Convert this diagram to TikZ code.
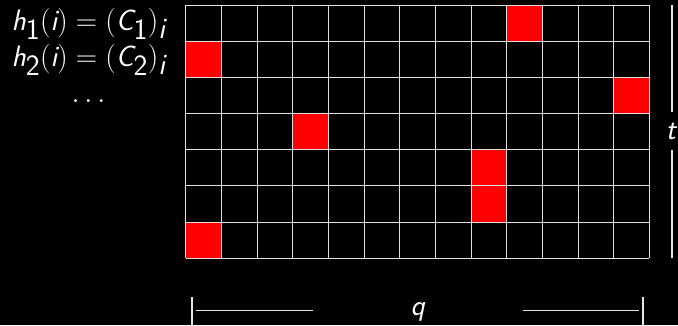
\RequirePackage{fix-cm}
\documentclass[tikz,border=0pt]{standalone}
\newcommand\sfi[1]{\textsf{\itshape #1}}
\newcommand\sfu[1]{\textsf{#1}}
\tikzset{
  gridline/.style={draw=white!88!black, line width=1pt},
  redcell/.style={fill=red, draw=none},
  lbl/.style={text=white, font=\fontsize{29.5}{35}\selectfont, inner sep=0pt},
  barline/.style={draw=white!90!black, line width=1.8pt},
  dashline/.style={draw=white!90!black, line width=1.3pt},
}
\begin{document}
\begin{tikzpicture}[x=1pt,y=-1pt]
\fill[black] (0,0) rectangle (678,325);
\useasboundingbox (0,0) rectangle (678,325);
\def\xo{185.7}\def\yo{5}\def\cw{35.67}\def\ch{36.19}
% red cells
\foreach \c/\r in {9/0,0/1,12/2,3/3,8/4,8/5,0/6}{
  \fill[redcell] ({\xo+\c*\cw},{\yo+\r*\ch}) rectangle ({\xo+(\c+1)*\cw},{\yo+(\r+1)*\ch});
}
% grid
\foreach \c in {0,...,13}{
  \draw[gridline] ({\xo+\c*\cw},\yo) -- ({\xo+\c*\cw},{\yo+7*\ch});
}
\foreach \r in {0,...,7}{
  \draw[gridline] (\xo,{\yo+\r*\ch}) -- ({\xo+13*\cw},{\yo+\r*\ch});
}
% labels
\node[lbl, anchor=base] (h1) at (88.5,30) {$\sfi{h}_{\sfu{1}}(\sfi{i}) = (\sfi{C}_{\sfu{1}})_{\sfi{i}}$};
\node[lbl, anchor=base] (h2) at (88.5,66) {$\sfi{h}_{\sfu{2}}(\sfi{i}) = (\sfi{C}_{\sfu{2}})_{\sfi{i}}$};
\node[lbl, anchor=base] (dots) at (88.5,102) {$\ldots$};
% t dimension
\node[lbl, anchor=base] (t) at (671.7,139) {\sfi{t}};
\coordinate (ttop) at (672,5);
\coordinate (tbot) at (672,258);
\draw[dashline] (ttop) -- (672,112);
\draw[dashline] (672,150) -- (tbot);
% q dimension
\node[lbl, anchor=base] (q) at (418,315) {\sfi{q}};
\coordinate (ql) at (192,297);
\coordinate (qr) at (643.3,297);
\draw[barline] (ql) -- (192,325);
\draw[barline] (qr) -- (643.3,325);
\draw[dashline] (196,310.7) -- (312.7,310.7);
\draw[dashline] (522.7,310.7) -- (639.3,310.7);
\end{tikzpicture}
\end{document}
